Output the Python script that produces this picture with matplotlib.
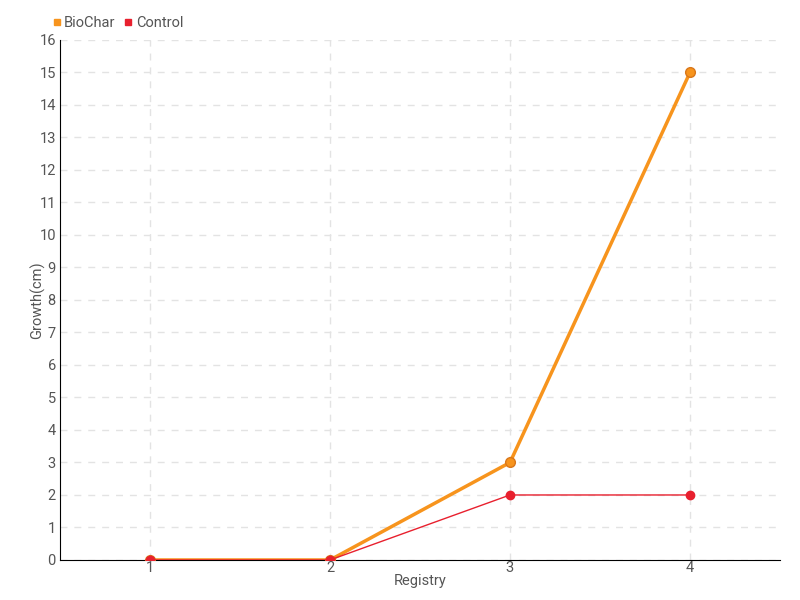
import matplotlib
matplotlib.use("Agg")
import matplotlib.pyplot as plt
from matplotlib.lines import Line2D

registry = [1, 2, 3, 4]
biochar = [0, 0, 3, 15]
control = [0, 0, 2, 2]
yticks = list(range(0, 17))

plt.rcParams['font.family'] = ['Roboto', 'DejaVu Sans']
fig = plt.figure(figsize=(8, 6), dpi=100)
ax = fig.add_axes([0.075, 0.0667, 0.9, 0.8667])

ax.plot(registry, biochar, color='#f7941d', lw=2.5, marker='o', ms=7,
        mfc='#f7941d', mec='#d9771a', mew=1, zorder=3)
ax.plot(registry, control, color='#e8202e', lw=1, marker='o', ms=6,
        mfc='#e8202e', mec='#e8202e', zorder=4)

ax.set_xlim(0.5, 4.5)
ax.set_ylim(0, 16)
ax.set_xticks(registry)
ax.set_yticks(yticks)
ax.tick_params(axis='both', colors='#555555', labelsize=10.5, length=0)
ax.tick_params(axis='x', pad=1)
ax.tick_params(axis='y', pad=3)
ax.grid(True, color='#e3e3e3', linestyle=(0, (5, 5)), lw=1)
ax.set_axisbelow(True)
for s in ['top', 'right']:
    ax.spines[s].set_visible(False)
ax.spines['left'].set_color('#000000')
ax.spines['bottom'].set_color('#000000')
ax.set_xlabel('Registry', color='#555555', fontsize=10.5)
ax.set_ylabel('Growth(cm)', color='#555555', fontsize=10.5)
ax.xaxis.set_label_coords(0.5, -0.026)
ax.yaxis.set_label_coords(-0.021, 0.5)

handles = [Line2D([], [], marker='s', color='none', mfc='#f7941d', mec='#f7941d', ms=5),
           Line2D([], [], marker='s', color='none', mfc='#e8202e', mec='#e8202e', ms=5)]
fig.legend(handles, ['BioChar', 'Control'], loc='upper left', bbox_to_anchor=(0.047, 0.995),
           ncol=2, frameon=False, fontsize=10.5, handletextpad=0.1, columnspacing=0.5,
           handlelength=0.8, labelcolor='#555555')

fig.savefig('out.png', dpi=100)
